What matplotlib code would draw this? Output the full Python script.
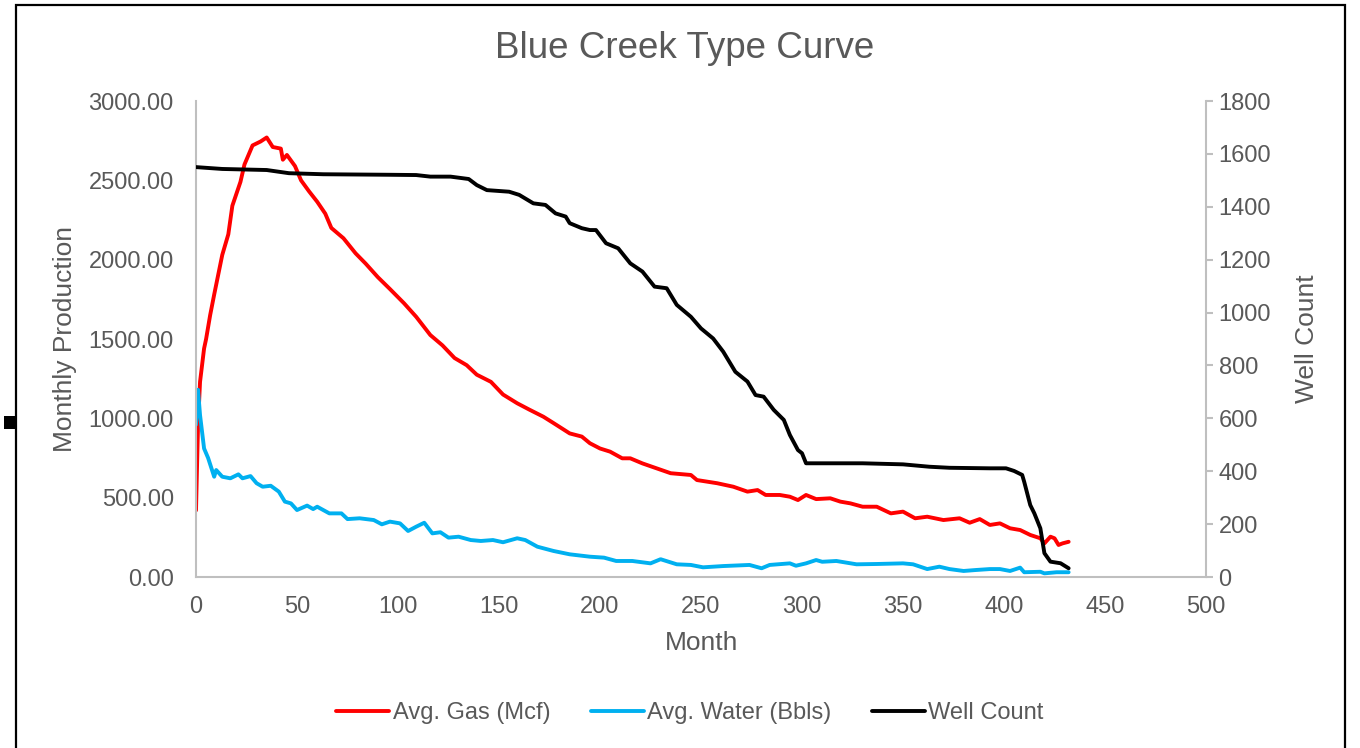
import matplotlib.pyplot as plt
from matplotlib.patches import Rectangle

plt.rcParams['font.family'] = ['Liberation Sans', 'DejaVu Sans']

# Avg. gas (Mcf)
gas_month = [0, 1, 2, 4, 5, 7, 9, 13, 16, 18, 22, 24, 28, 32, 35, 38, 42, 43, 45, 49,
             52, 56, 60, 64, 67, 73, 79, 84, 90, 96, 103, 109, 116, 122, 128, 134, 139,
             146, 152, 159, 165, 172, 177, 185, 191, 195, 200, 205, 211, 215, 221, 228,
             235, 245, 248, 258, 266, 273, 278, 282, 289, 294, 298, 302, 307, 314, 319,
             324, 330, 337, 344, 350, 356, 362, 370, 378, 383, 388, 393, 398, 403, 408,
             413, 418, 420, 423, 425, 427, 429, 432]
gas = [420, 960, 1230, 1440, 1500, 1650, 1780, 2030, 2160, 2340, 2490, 2600, 2720, 2745,
       2770, 2710, 2700, 2630, 2660, 2590, 2500, 2430, 2365, 2290, 2200, 2135, 2040, 1975,
       1890, 1815, 1725, 1640, 1525, 1460, 1380, 1335, 1275, 1230, 1150, 1095, 1055, 1010,
       970, 905, 885, 843, 810, 790, 748, 748, 716, 685, 654, 643, 611, 591, 569, 538, 548,
       517, 517, 506, 485, 517, 491, 496, 475, 464, 443, 443, 401, 412, 370, 380, 359, 370,
       342, 365, 328, 338, 307, 296, 265, 244, 212, 254, 244, 202, 212, 222]

# Avg. water (Bbls)
water_month = [0, 1, 2, 4, 6, 9, 10, 13, 17, 21, 23, 27, 30, 33, 37, 41, 44, 47, 50, 55,
               58, 60, 66, 72, 75, 81, 88, 92, 96, 101, 105, 109, 113, 117, 121, 125, 130,
               136, 141, 147, 152, 159, 163, 169, 177, 185, 195, 202, 208, 216, 225, 230,
               238, 245, 251, 261, 274, 280, 284, 294, 297, 302, 307, 310, 317, 327, 337,
               350, 355, 362, 368, 373, 380, 386, 393, 398, 403, 408, 410, 418, 420, 426, 432]
water = [960, 1180, 1020, 810, 750, 632, 674, 632, 622, 647, 622, 636, 591, 569, 575, 538,
         475, 464, 422, 450, 428, 443, 401, 401, 365, 370, 359, 332, 349, 338, 290, 317, 342,
         275, 282, 248, 254, 233, 227, 233, 219, 244, 233, 191, 164, 143, 128, 122, 101, 101,
         86, 112, 80, 76, 61, 69, 76, 55, 76, 86, 71, 86, 107, 96, 101, 80, 82, 86, 80, 50,
         65, 50, 38, 44, 50, 50, 38, 59, 30, 33, 23, 30, 30]

# Well count (right axis)
well_month = [0, 13, 35, 46, 63, 96, 109, 116, 126, 135, 139, 144, 155, 160, 167, 173, 178,
              183, 185, 191, 195, 198, 203, 209, 215, 221, 227, 233, 238, 245, 250, 256, 261,
              267, 273, 277, 281, 286, 291, 294, 298, 300, 302, 330, 350, 363, 373, 393, 401,
              405, 409, 410, 413, 415, 418, 420, 423, 428, 432]
wells = [1550, 1543, 1539, 1527, 1523, 1521, 1520, 1514, 1514, 1505, 1482, 1463, 1457, 1445,
         1413, 1407, 1375, 1363, 1338, 1319, 1312, 1312, 1262, 1243, 1186, 1155, 1098, 1092,
         1029, 984, 940, 902, 852, 776, 739, 688, 682, 632, 594, 537, 480, 468, 430, 430, 426,
         417, 413, 411, 411, 401, 386, 360, 272, 241, 184, 90, 58, 52, 33]

text_color = '#595959'
axis_color = '#BFBFBF'

fig = plt.figure(figsize=(13.6, 7.48), dpi=100)
ax = fig.add_axes([196 / 1360, 1 - 577 / 748, 1010 / 1360, 476 / 748])
ax2 = ax.twinx()

line_kw = dict(lw=2.8, solid_joinstyle='round', solid_capstyle='round')
l1, = ax.plot(gas_month, gas, color='#FF0000', label='Avg. Gas (Mcf)', **line_kw)
l2, = ax.plot(water_month, water, color='#00B0F0', label='Avg. Water (Bbls)', **line_kw)
l3, = ax2.plot(well_month, wells, color='black', label='Well Count', **line_kw)

ax.set_xlim(0, 500)
ax.set_ylim(0, 3000)
ax2.set_ylim(0, 1800)
ax.set_xticks(range(0, 501, 50))
ax.set_yticks(range(0, 3001, 500))
ax.set_yticklabels([f'{v:.2f}' for v in range(0, 3001, 500)])
ax2.set_yticks(range(0, 1801, 200))

for a in (ax, ax2):
    for s in a.spines.values():
        s.set_visible(False)
ax.spines['left'].set_visible(True)
ax.spines['bottom'].set_visible(True)
ax2.spines['right'].set_visible(True)
for s in (ax.spines['left'], ax.spines['bottom'], ax2.spines['right']):
    s.set_color(axis_color)
    s.set_linewidth(1.5)

ax.tick_params(axis='y', length=0, pad=16, labelsize=17, labelcolor=text_color)
ax.tick_params(axis='x', length=0, pad=14, labelsize=17, labelcolor=text_color)
ax2.tick_params(axis='y', length=5, width=1.5, color=axis_color, pad=4, labelsize=17,
                labelcolor=text_color)

fig.text(685 / 1360, 1 - 49 / 748, 'Blue Creek Type Curve', fontsize=26.5,
         color=text_color, ha='center', va='center')
fig.text(65 / 1360, 1 - 339 / 748, 'Monthly Production', fontsize=19, color=text_color,
         rotation=90, ha='center', va='center')
fig.text(1307 / 1360, 1 - 339 / 748, 'Well Count', fontsize=19, color=text_color,
         rotation=90, ha='center', va='center')
fig.text(702 / 1360, 1 - 643 / 748, 'Month', fontsize=19, color=text_color,
         ha='center', va='center')

fig.legend(handles=[l1, l2, l3], loc='center', bbox_to_anchor=(690 / 1360, 1 - 713 / 748),
           ncol=3, frameon=False, fontsize=17, handlelength=2.25, handletextpad=0.15,
           columnspacing=1.7, labelcolor=text_color)

# chart frame and the little selection handle on its left edge
fig.patches.append(Rectangle((16 / 1360, -0.05), 1329 / 1360, 1.05 - 5 / 748,
                             transform=fig.transFigure, fill=False, edgecolor='black',
                             linewidth=1.6))
fig.patches.append(Rectangle((4 / 1360, 1 - 429 / 748), 12 / 1360, 13 / 748,
                             transform=fig.transFigure, facecolor='black', edgecolor='none'))

fig.savefig('out.png', dpi=100)
